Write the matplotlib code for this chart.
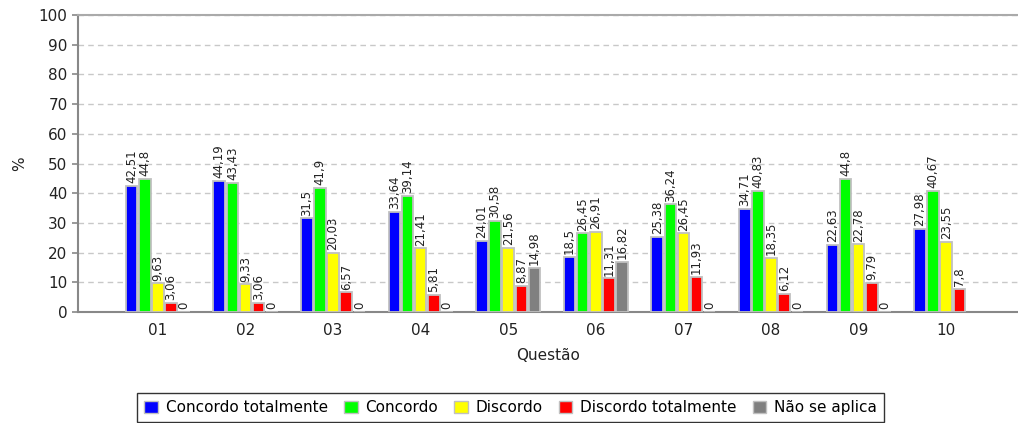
import matplotlib
matplotlib.use("Agg")
import matplotlib.pyplot as plt
import numpy as np

questions = ["01", "02", "03", "04", "05", "06", "07", "08", "09", "10"]
series_names = ["Concordo totalmente", "Concordo", "Discordo",
                "Discordo totalmente", "Não se aplica"]
concordo_tot = [42.51, 44.19, 31.5, 33.64, 24.01, 18.5, 25.38, 34.71, 22.63, 27.98]
concordo = [44.8, 43.43, 41.9, 39.14, 30.58, 26.45, 36.24, 40.83, 44.8, 40.67]
discordo = [9.63, 9.33, 20.03, 21.41, 21.56, 26.91, 26.45, 18.35, 22.78, 23.55]
discordo_tot = [3.06, 3.06, 6.57, 5.81, 8.87, 11.31, 11.93, 6.12, 9.79, 7.8]
nao_aplica = [0, 0, 0, 0, 14.98, 16.82, 0, 0, 0, None]
colors = ["#0000FF", "#00FF00", "#FFFF00", "#FF0000", "#808080"]


def fmt(v):
    s = ("%.2f" % v).rstrip("0").rstrip(".")
    return s.replace(".", ",")


fig = plt.figure(figsize=(10.18, 4.23), dpi=100)
ax = fig.add_axes([0.0766, 0.2624, 0.9234, 0.7021])

x = np.arange(len(questions))
width = 0.15
all_series = [concordo_tot, concordo, discordo, discordo_tot, nao_aplica]
handles = []
for k, (vals, col, name) in enumerate(zip(all_series, colors, series_names)):
    pos = x + (k - 2) * width
    for xi, v in zip(pos, vals):
        if v is None:
            continue
        ax.bar(xi, v, width * 0.88, color=col, edgecolor="#C0C0C0",
               linewidth=1.3, zorder=3)
        ax.annotate(fmt(v), (xi, v), xytext=(0, 2), textcoords="offset points",
                    rotation=90, ha="center", va="bottom", fontsize=8.5,
                    color="#222222", zorder=4)
    handles.append(plt.Rectangle((0, 0), 1, 1, facecolor=col,
                                 edgecolor="#C0C0C0", linewidth=1))

ax.set_xlim(-0.913, 9.82)
ax.set_ylim(0, 100)
ax.set_yticks(range(0, 101, 10))
ax.set_xticks(x)
ax.set_xticklabels(questions)
ax.yaxis.grid(True, linestyle=(0, (4, 3)), color="#C8C8C8", linewidth=1, zorder=0)
ax.set_axisbelow(True)

for side in ["left", "bottom", "top"]:
    ax.spines[side].set_color("#888888")
    ax.spines[side].set_linewidth(1.5)
ax.spines["right"].set_visible(False)
ax.spines["top"].set_color("#AAAAAA")
ax.tick_params(axis="y", colors="#888888", labelcolor="#222222",
               labelsize=11, length=4, width=1.2)
ax.tick_params(axis="x", length=0, labelsize=11, labelcolor="#222222", pad=8)

ax.set_ylabel("%", fontsize=11, color="#222222", labelpad=8)
ax.set_xlabel("Questão", fontsize=11, color="#222222", labelpad=7)

leg = fig.legend(handles, series_names, loc="lower center",
                 bbox_to_anchor=(0.5015, 0.0), ncol=5, fontsize=11,
                 frameon=True, fancybox=False, edgecolor="black",
                 handlelength=0.9, handleheight=0.9, handletextpad=0.5,
                 columnspacing=1.05, borderpad=0.45, borderaxespad=0.05)
leg.get_frame().set_linewidth(1.0)

fig.savefig("out.png", dpi=100)
